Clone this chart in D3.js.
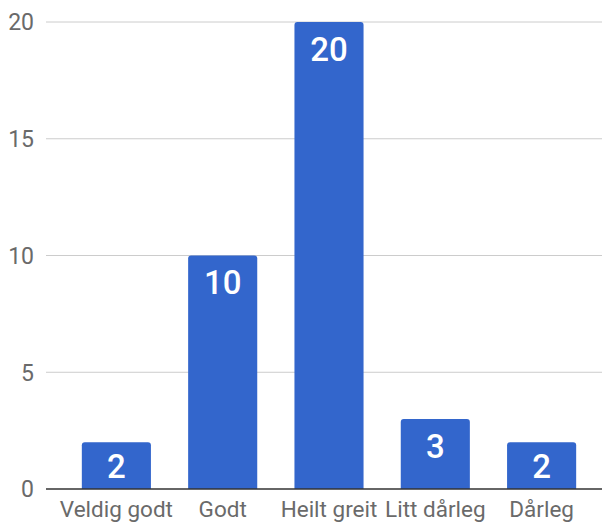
<!DOCTYPE html>
<html>
<head>
<meta charset="utf-8">
<script src="https://cdn.jsdelivr.net/npm/d3@7"></script>
<style>
  body { margin: 0; background: #fff; }
  svg { display: block; font-family: Roboto, "Noto Sans", sans-serif; }
</style>
</head>
<body>
<svg id="chart" width="606" height="526"></svg>
<script>
const categories = ["Veldig godt", "Godt", "Heilt greit", "Litt dårleg", "Dårleg"]
const values = [2, 10, 20, 3, 2]
const yTicks = [0, 5, 10, 15, 20]

const width = 606
const height = 526
const margin = { top: 22, right: 4, bottom: 37, left: 46 }

const svg = d3.select("#chart")

// x scale: bands for each answer
const xScale = d3
  .scaleBand()
  .domain(categories)
  .range([margin.left + 5, width - margin.right + 5])
  .paddingInner(0.35)
  .paddingOuter(0.29)

const yScale = d3
  .scaleLinear()
  .domain([0, 20])
  .range([height - margin.bottom, margin.top])

// gridlines
svg
  .append("g")
  .selectAll("line")
  .data(yTicks.filter((d) => d > 0))
  .enter()
  .append("line")
  .attr("x1", margin.left)
  .attr("x2", width - margin.right)
  .attr("y1", (d) => yScale(d))
  .attr("y2", (d) => yScale(d))
  .attr("stroke", "#cccccc")
  .attr("stroke-width", 1)

// y tick labels
svg
  .append("g")
  .selectAll("text")
  .data(yTicks)
  .enter()
  .append("text")
  .attr("x", 34)
  .attr("y", (d) => yScale(d))
  .attr("dy", "0.36em")
  .attr("text-anchor", "end")
  .attr("font-size", 23)
  .attr("fill", "#6a6a6a")
  .text((d) => d)

// bars with slightly rounded top corners
const r = 3
const bars = svg
  .append("g")
  .selectAll("path")
  .data(categories.map((c, i) => ({ cat: c, value: values[i] })))
  .enter()

bars
  .append("path")
  .attr("fill", "#3366cc")
  .attr("d", (d) => {
    const x0 = xScale(d.cat)
    const x1 = x0 + xScale.bandwidth()
    const y0 = yScale(d.value)
    const yb = yScale(0)
    return `M${x0},${yb}V${y0 + r}Q${x0},${y0} ${x0 + r},${y0}H${x1 - r}Q${x1},${y0} ${x1},${y0 + r}V${yb}Z`
  })

// value labels inside bars
bars
  .append("text")
  .attr("x", (d) => xScale(d.cat) + xScale.bandwidth() / 2)
  .attr("y", (d) => {
    const top = yScale(d.value)
    const h = yScale(0) - top
    return top + Math.min(27, h / 2)
  })
  .attr("dy", "0.36em")
  .attr("text-anchor", "middle")
  .attr("font-size", 33)
  .attr("font-weight", 500)
  .attr("fill", "#ffffff")
  .text((d) => d.value)

// baseline
svg
  .append("line")
  .attr("x1", margin.left)
  .attr("x2", width - margin.right)
  .attr("y1", yScale(0))
  .attr("y2", yScale(0))
  .attr("stroke", "#333333")
  .attr("stroke-width", 1.5)

// x axis labels
svg
  .append("g")
  .selectAll("text")
  .data(categories)
  .enter()
  .append("text")
  .attr("x", (d) => xScale(d) + xScale.bandwidth() / 2)
  .attr("y", 517)
  .attr("text-anchor", "middle")
  .attr("font-size", 22.5)
  .attr("fill", "#6a6a6a")
  .text((d) => d)
</script>
</body>
</html>
